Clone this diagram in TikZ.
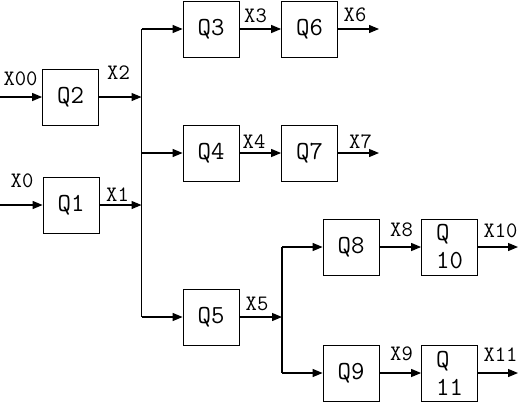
\documentclass[tikz,border=0pt]{standalone}
\usetikzlibrary{arrows.meta}
\tikzstyle{qbox} = [rectangle, draw=black, minimum width=28pt, minimum height=28pt, inner sep=0pt, align=left, font=\ttfamily\fontsize{13}{14}\selectfont]
\tikzstyle{sig} = [inner sep=0pt, font=\ttfamily\fontsize{11}{12}\selectfont]
\tikzstyle{arrow} = [line width=0.6pt,-{Triangle[length=5pt,width=4pt]}]
\tikzstyle{bus} = [line width=0.6pt]

\begin{document}
\begin{tikzpicture}[x=0.5pt,y=-0.5pt]
\useasboundingbox (0,0) rectangle (522,412);
% blocks
\node (q2) [qbox] at (70.5,97) {Q2};
\node (q1) [qbox] at (71,205) {Q1};
\node (q3) [qbox] at (211,29) {Q3};
\node (q6) [qbox] at (309.5,29) {Q6};
\node (q4) [qbox] at (211,153) {Q4};
\node (q7) [qbox] at (309.5,153) {Q7};
\node (q5) [qbox] at (211,317) {Q5};
\node (q8) [qbox] at (351,247) {Q8};
\node (q10) [qbox] at (449.5,247) {Q\\10};
\node (q9) [qbox] at (351,373) {Q9};
\node (q11) [qbox] at (449.5,373) {Q\\11};
% free ends and buses
\coordinate (in2) at (0,97);
\coordinate (in1) at (0,205);
\coordinate (busa) at (141.5,29);
\coordinate (busb) at (282,247);
\coordinate (out6) at (379,29);
\coordinate (out7) at (379,153);
\coordinate (out10) at (518,247);
\coordinate (out11) at (518,373);
% signals
\node (x00) [sig] at (20.5,79) {X00};
\node (x0) [sig] at (22,181) {X0};
\node (x2) [sig] at (118.5,73) {X2};
\node (x1) [sig] at (117.5,194.5) {X1};
\node (x3) [sig] at (255.5,15.5) {X3};
\node (x6) [sig] at (355,14.5) {X6};
\node (x4) [sig] at (254,141.5) {X4};
\node (x7) [sig] at (360.5,141.5) {X7};
\node (x5) [sig] at (257,303.5) {X5};
\node (x8) [sig] at (401.5,230) {X8};
\node (x10) [sig] at (500.5,231) {X10};
\node (x9) [sig] at (401.5,354) {X9};
\node (x11) [sig] at (500.5,355) {X11};
% connectors
\draw [arrow] (in2) -- (q2);
\draw [arrow] (in1) -- (q1);
\draw [arrow] (q2) -- (busa |- q2);
\draw [arrow] (q1) -- (busa |- q1);
\draw [bus] (busa) -- (busa |- q5);
\draw [arrow] (busa) -- (q3);
\draw [arrow] (busa |- q4) -- (q4);
\draw [arrow] (busa |- q5) -- (q5);
\draw [arrow] (q3) -- (q6);
\draw [arrow] (q4) -- (q7);
\draw [arrow] (q6) -- (out6);
\draw [arrow] (q7) -- (out7);
\draw [arrow] (q5) -- (busb |- q5);
\draw [bus] (busb) -- (busb |- q9);
\draw [arrow] (busb) -- (q8);
\draw [arrow] (busb |- q9) -- (q9);
\draw [arrow] (q8) -- (q10);
\draw [arrow] (q9) -- (q11);
\draw [arrow] (q10) -- (out10);
\draw [arrow] (q11) -- (out11);
\end{tikzpicture}
\end{document}
